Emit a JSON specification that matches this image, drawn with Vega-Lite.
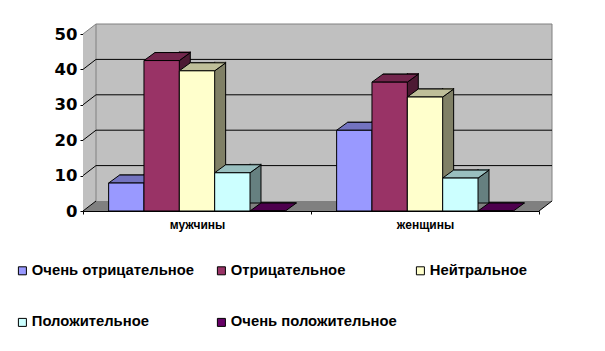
{
  "$schema": "https://vega.github.io/schema/vega-lite/v6.json",
  "width": 456,
  "height": 177,
  "autosize": "none",
  "padding": {"left": 83, "top": 34, "right": 66, "bottom": 140},
  "background": "white",
  "config": {
    "view": {"stroke": null},
    "font": "Liberation Sans",
    "axis": {"grid": false, "domainColor": "black", "tickColor": "black", "labelColor": "black", "labelFontWeight": "bold", "title": null}
  },
  "data": {
    "values": [
      {"group": "мужчины", "series": "Очень отрицательное", "value": 7.9},
      {"group": "мужчины", "series": "Отрицательное", "value": 42.5},
      {"group": "мужчины", "series": "Нейтральное", "value": 39.6},
      {"group": "мужчины", "series": "Положительное", "value": 10.8},
      {"group": "мужчины", "series": "Очень положительное", "value": 0},
      {"group": "женщины", "series": "Очень отрицательное", "value": 22.8},
      {"group": "женщины", "series": "Отрицательное", "value": 36.4},
      {"group": "женщины", "series": "Нейтральное", "value": 32.2},
      {"group": "женщины", "series": "Положительное", "value": 9.3},
      {"group": "женщины", "series": "Очень положительное", "value": 0}
    ]
  },
  "encoding": {
    "x": {"field": "group", "type": "nominal", "title": null,
          "scale": {"type": "band", "domain": ["мужчины", "женщины"], "paddingInner": 0, "paddingOuter": 0},
          "axis": {"tickBand": "extent", "tickSize": 3, "labelPadding": 5, "labelFont": "Liberation Sans", "labelFontSize": 12, "labelFontWeight": "bold", "labelAngle": 0, "title": null}},
    "y": {"field": "value", "type": "quantitative", "title": null,
          "scale": {"domain": [0, 50], "nice": false, "zero": true},
          "axis": {"values": [0, 10, 20, 30, 40, 50], "labelOverlap": false, "tickSize": 3, "labelPadding": 3, "labelFont": "DejaVu Sans", "labelFontSize": 16.5, "labelFontWeight": "bold", "title": null}}
  },
  "layer": [
    {
      "data": {"values": [{"group": "мужчины", "value": 0}]},
      "mark": {"type": "point", "shape": "M-114,0 L-114,-177 L-101,-187 L355,-187 L355,-10 L-101,-10 Z", "size": 4, "filled": true, "fill": "#C0C0C0", "opacity": 1, "strokeWidth": 0}
    },
    {
      "data": {"values": [{"group": "мужчины", "value": 0}]},
      "mark": {"type": "point", "shape": "M-114,0 L342,0 L355,-10 L-101,-10 Z", "size": 4, "filled": true, "fill": "#808080", "opacity": 1, "strokeWidth": 0}
    },
    {
      "data": {"values": [{"group": "мужчины", "value": 0}]},
      "mark": {"type": "point", "shape": "M-114,-177 L-101,-187 L355,-187 L355,-10 M-101,-187 L-101,-10", "size": 4, "filled": false, "stroke": "#808080", "strokeWidth": 1, "opacity": 1}
    },
    {
      "data": {"values": [{"group": "мужчины", "value": 10}, {"group": "мужчины", "value": 20}, {"group": "мужчины", "value": 30}, {"group": "мужчины", "value": 40}]},
      "mark": {"type": "point", "shape": "M-114,0 L-101,-10 L355,-10", "size": 4, "filled": false, "stroke": "black", "strokeWidth": 1, "opacity": 1}
    },
    {
      "data": {"values": [{"group": "мужчины", "value": 0}]},
      "mark": {"type": "point", "shape": "M-114,0 L-101,-10 M342,0 L355,-10", "size": 4, "filled": false, "stroke": "black", "strokeWidth": 1, "opacity": 1}
    },
    {
      "mark": {"type": "bar", "yOffset": -8, "y2Offset": -8, "stroke": "black", "strokeWidth": 1},
      "encoding": {
        "xOffset": {"field": "series", "type": "nominal", "scale": {"type": "band", "domain": ["Очень отрицательное", "Отрицательное", "Нейтральное", "Положительное", "Очень положительное"], "paddingInner": 0, "paddingOuter": 0.725, "align": 0.714}},
        "color": {"field": "series", "type": "nominal", "legend": null,
                  "scale": {"domain": ["Очень отрицательное", "Отрицательное", "Нейтральное", "Положительное", "Очень положительное"], "range": ["#4D4D80", "#4D1A33", "#808066", "#668080", "#330033"]}}
      }
    },
    {
      "transform": [{"filter": "datum.value > 0"}],
      "mark": {"type": "point", "shape": "M17.7,-9 L17.7,0 L28.7,-8 L28.7,-9", "size": 4, "filled": true, "stroke": "black", "strokeWidth": 1, "opacity": 1},
      "encoding": {
        "xOffset": {"field": "series", "type": "nominal", "scale": {"type": "band", "domain": ["Очень отрицательное", "Отрицательное", "Нейтральное", "Положительное", "Очень положительное"], "paddingInner": 0, "paddingOuter": 0.725, "align": 0.5}},
        "color": {"field": "series", "type": "nominal", "legend": null,
                  "scale": {"domain": ["Очень отрицательное", "Отрицательное", "Нейтральное", "Положительное", "Очень положительное"], "range": ["#4D4D80", "#4D1A33", "#808066", "#668080", "#330033"]}}
      }
    },
    {
      "mark": {"type": "point", "shape": "M-17.7,0 L17.7,0 L28.7,-8 L-6.7,-8 Z", "size": 4, "filled": true, "stroke": "black", "strokeWidth": 1, "opacity": 1},
      "encoding": {
        "xOffset": {"field": "series", "type": "nominal", "scale": {"type": "band", "domain": ["Очень отрицательное", "Отрицательное", "Нейтральное", "Положительное", "Очень положительное"], "paddingInner": 0, "paddingOuter": 0.725, "align": 0.5}},
        "color": {"field": "series", "type": "nominal", "legend": null,
                  "scale": {"domain": ["Очень отрицательное", "Отрицательное", "Нейтральное", "Положительное", "Очень положительное"], "range": ["#7373BF", "#73264D", "#BFBF99", "#99BFBF", "#4D004D"]}}
      }
    },
    {
      "mark": {"type": "bar", "stroke": "black", "strokeWidth": 1},
      "encoding": {
        "xOffset": {"field": "series", "type": "nominal", "scale": {"type": "band", "domain": ["Очень отрицательное", "Отрицательное", "Нейтральное", "Положительное", "Очень положительное"], "paddingInner": 0, "paddingOuter": 0.725, "align": 0.5}},
        "color": {"field": "series", "type": "nominal",
                  "scale": {"domain": ["Очень отрицательное", "Отрицательное", "Нейтральное", "Положительное", "Очень положительное"], "range": ["#9999FF", "#993366", "#FFFFCC", "#CCFFFF", "#660066"]},
                  "legend": {"title": null, "orient": "none", "direction": "horizontal", "legendX": -68, "legendY": 229, "padding": 0, "columns": 3, "gridAlign": "all", "columnPadding": 16, "rowPadding": 36, "symbolType": "square", "symbolSize": 64, "symbolStrokeColor": "black", "symbolStrokeWidth": 1, "labelFont": "Liberation Sans", "labelFontWeight": "bold", "labelFontSize": 14.8, "labelColor": "black", "labelOffset": 2, "labelLimit": 300}}
      }
    }
  ],
  "resolve": {"scale": {"color": "independent", "xOffset": "independent"}}
}
